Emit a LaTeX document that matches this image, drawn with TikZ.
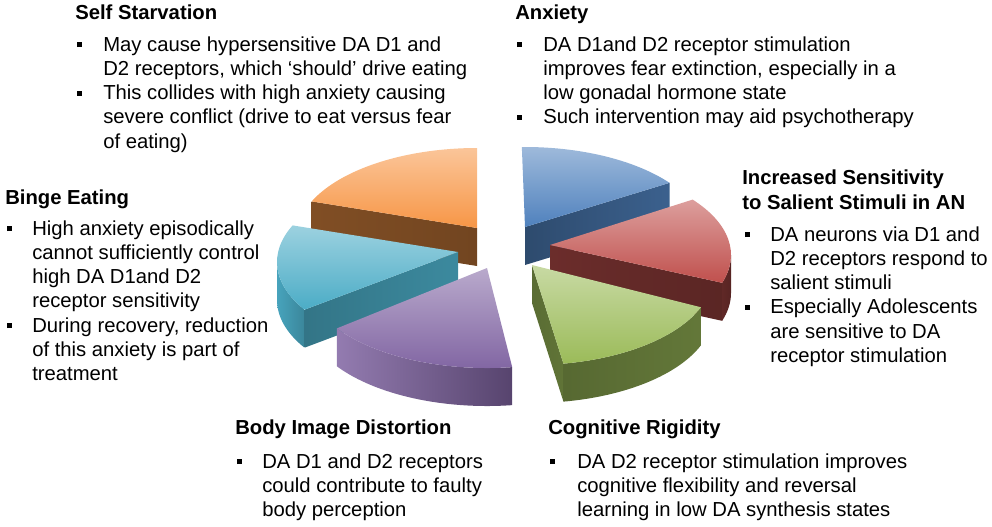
\documentclass[tikz,border=0pt]{standalone}
\usepackage{fontspec}
\setmainfont{Liberation Sans}
\usetikzlibrary{calc}

\definecolor{pblue}{HTML}{4F81BD}
\definecolor{pred}{HTML}{C0504D}
\definecolor{pgreen}{HTML}{9BBB59}
\definecolor{ppurple}{HTML}{8064A2}
\definecolor{pcyan}{HTML}{4BACC6}
\definecolor{porange}{HTML}{F79646}

\newcommand{\bul}{\rule[3pt]{3.75pt}{3.75pt}}

\begin{document}
\begin{tikzpicture}[x=0.75pt, y=0.75pt,
  head/.style={inner sep=0, anchor=base west, align=left,
    font=\bfseries\fontsize{15.2}{18.4}\selectfont},
  list/.style={inner sep=0, anchor=base west,
    font=\fontsize{15.2}{18.2}\selectfont},
  ell/.style={x radius=135.75pt, y radius=67.5pt},
  pietop/.style={top color=#1!55!white, middle color=#1!82!white, bottom color=#1},
  side/.style 2 args={left color=#1, right color=#2}]
  \useasboundingbox (0,0) rectangle (992,-526);

  % pie slices, back to front
  \coordinate (ba) at (525,-227);
  \coordinate (bc) at (525,-237);
  \shade[side={pblue!58!black}{pblue!75!black}] (ba) -- ([shift={(37:135.75pt and 67.5pt)}]bc) -- ++(0,-38) -- ([yshift=-28.5pt]ba) -- cycle;
  \shade[pietop=pblue] (ba) -- ([shift={(37:135.75pt and 67.5pt)}]bc) arc[ell, start angle=37, end angle=91] -- cycle;

  \coordinate (oa) at (477,-228);
  \coordinate (oc) at (477,-238);
  \shade[side={porange!52!black}{porange!46!black}] (oa) -- ([shift={(156:135.75pt and 67.5pt)}]oc) -- ++(0,-38) -- ([yshift=-28.5pt]oa) -- cycle;
  \shade[pietop=porange] (oa) -- ([shift={(90:135.75pt and 67.5pt)}]oc) arc[ell, start angle=90, end angle=156] -- cycle;

  \coordinate (ra) at (550,-245);
  \coordinate (rc) at (550,-255);
  \shade[side={pred!56!black}{pred!47!black}] (ra) -- ([shift={(342:135.75pt and 67.5pt)}]rc) -- ++(0,-38) -- ([yshift=-28.5pt]ra) -- cycle;
  \shade[side={pred!50!black}{pred!45!black}] ([shift={(342:135.75pt and 67.5pt)}]rc) arc[ell, start angle=342, end angle=360] -- ++(0,-38) arc[ell, start angle=360, end angle=342] -- cycle;
  \shade[pietop=pred] (ra) -- ([shift={(342:135.75pt and 67.5pt)}]rc) arc[ell, start angle=342, end angle=398] -- cycle;

  \coordinate (ca) at (458,-252);
  \coordinate (cc) at (458,-262);
  \shade[side={pcyan!95!black}{pcyan!78!black}] ([shift={(180:135.75pt and 67.5pt)}]cc) arc[ell, start angle=180, end angle=212] -- ++(0,-38) arc[ell, start angle=212, end angle=180] -- cycle;
  \shade[side={pcyan!68!black}{pcyan!80!black}] (ca) -- ([shift={(212:135.75pt and 67.5pt)}]cc) -- ++(0,-38) -- ([yshift=-28.5pt]ca) -- cycle;
  \shade[pietop=pcyan] (ca) -- ([shift={(156:135.75pt and 67.5pt)}]cc) arc[ell, start angle=156, end angle=212] -- cycle;

  \coordinate (ga) at (532,-265);
  \coordinate (gc) at (532,-275);
  \shade[side={pgreen!58!black}{pgreen!62!black}] (ga) -- ([shift={(280:135.75pt and 67.5pt)}]gc) -- ++(0,-38) -- ([yshift=-28.5pt]ga) -- cycle;
  \shade[side={pgreen!56!black}{pgreen!64!black}] ([shift={(280:135.75pt and 67.5pt)}]gc) arc[ell, start angle=280, end angle=339] -- ++(0,-38) arc[ell, start angle=339, end angle=280] -- cycle;
  \shade[pietop=pgreen] (ga) -- ([shift={(280:135.75pt and 67.5pt)}]gc) arc[ell, start angle=280, end angle=339] -- cycle;

  \coordinate (pa) at (487,-268);
  \coordinate (pc) at (487,-278);
  \shade[side={ppurple!85!white}{ppurple!68!black}] ([shift={(214:135.75pt and 67.5pt)}]pc) arc[ell, start angle=214, end angle=278] -- ++(0,-38) arc[ell, start angle=278, end angle=214] -- cycle;
  \shade[pietop=ppurple] (pa) -- ([shift={(214:135.75pt and 67.5pt)}]pc) arc[ell, start angle=214, end angle=278] -- cycle;

  % text blocks
  \node (ss) [head] at (75,-19) {Self Starvation};
  \node (ssl) [list] at ([shift={(2,-32)}]ss.base west) {\begin{tabular}[t]{@{}p{19.5pt}@{}l@{}}
    \bul & May cause hypersensitive DA D1 and\\
         & D2 receptors, which `should' drive eating\\
    \bul & This collides with high anxiety causing\\
         & severe conflict (drive to eat versus fear\\
         & of eating)
  \end{tabular}};

  \node (anx) [head] at (515,-19) {Anxiety};
  \node (anxl) [list] at ([shift={(2,-32)}]anx.base west) {\begin{tabular}[t]{@{}p{19.5pt}@{}l@{}}
    \bul & DA D1and D2 receptor stimulation\\
         & improves fear extinction, especially in a\\
         & low gonadal hormone state\\
    \bul & Such intervention may aid psychotherapy
  \end{tabular}};

  \node (be) [head] at (5,-204) {Binge Eating};
  \node (bel) [list] at ([shift={(2,-31)}]be.base west) {\begin{tabular}[t]{@{}p{18.75pt}@{}l@{}}
    \bul & High anxiety episodically\\
         & cannot sufficiently control\\
         & high DA D1and D2\\
         & receptor sensitivity\\
    \bul & During recovery, reduction\\
         & of this anxiety is part of\\
         & treatment
  \end{tabular}};

  \node (is) [head] at (742,-209) {Increased Sensitivity\\to Salient Stimuli in AN};
  \node (isl) [list] at ([shift={(3,-32)}]is.base west) {\begin{tabular}[t]{@{}p{18.75pt}@{}l@{}}
    \bul & DA neurons via D1 and\\
         & D2 receptors respond to\\
         & salient stimuli\\
    \bul & Especially Adolescents\\
         & are sensitive to DA\\
         & receptor stimulation
  \end{tabular}};

  \node (bi) [head] at (235,-434) {Body Image Distortion};
  \node (bil) [list] at ([shift={(2,-34)}]bi.base west) {\begin{tabular}[t]{@{}p{18.75pt}@{}l@{}}
    \bul & DA D1 and D2 receptors\\
         & could contribute to faulty\\
         & body perception
  \end{tabular}};

  \node (cr) [head] at (548,-434) {Cognitive Rigidity};
  \node (crl) [list] at ([shift={(2,-34)}]cr.base west) {\begin{tabular}[t]{@{}p{20.25pt}@{}l@{}}
    \bul & DA D2 receptor stimulation improves\\
         & cognitive flexibility and reversal\\
         & learning in low DA synthesis states
  \end{tabular}};
\end{tikzpicture}
\end{document}
